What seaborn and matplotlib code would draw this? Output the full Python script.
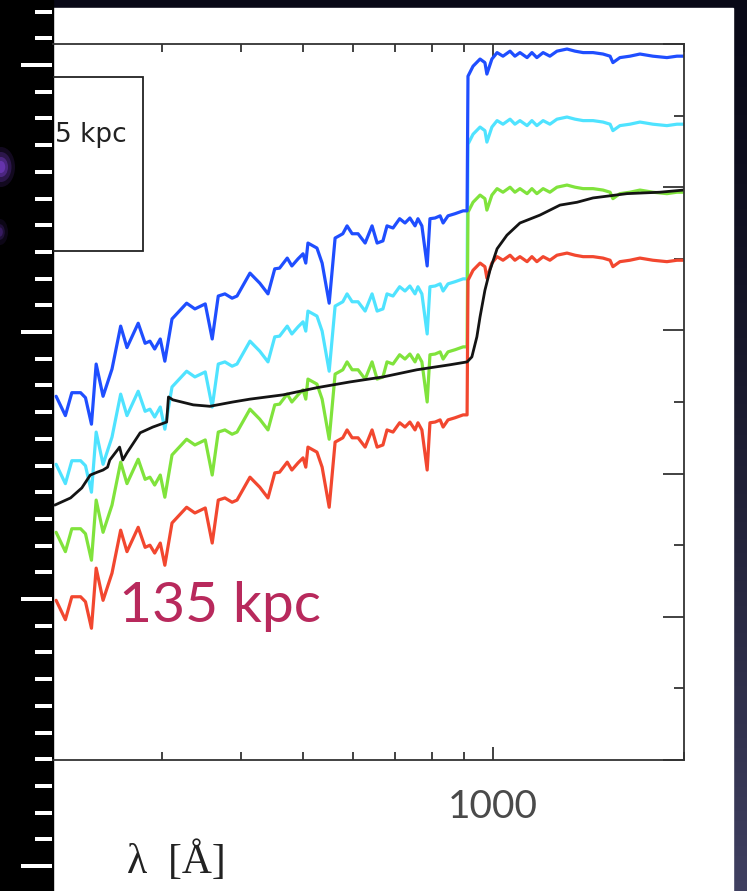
import numpy as np
import pandas as pd
import matplotlib
matplotlib.use("Agg")
import matplotlib.pyplot as plt
import matplotlib.ticker as mticker
from matplotlib.patches import Rectangle, Ellipse
import seaborn as sns

# ---------------- data ----------------
wavelength = [204, 211, 216, 223, 227, 232, 236, 242, 250, 258,
              264, 275, 282, 287, 292, 298, 303, 311, 328, 338,
              351, 360, 368, 377, 387, 394, 413, 428, 441, 452,
              460, 473, 481, 492, 501, 506, 510, 527, 537, 551,
              563, 571, 579, 588, 599, 612, 628, 644, 656, 670,
              680, 695, 712, 726, 739, 753, 761, 772, 787, 795,
              810, 825, 834, 849, 871, 897, 910, 913, 930, 954,
              971, 978, 996, 1015, 1037, 1064, 1083, 1103, 1132, 1152,
              1173, 1200, 1230, 1262, 1309, 1348, 1388, 1439, 1492, 1531,
              1547, 1587, 1646, 1707, 1789, 1883, 1953, 2000]

flux_red = [2.23, 1.96, 2.28, 2.28, 2.21, 1.84, 2.68, 2.23, 2.61, 3.21,
            2.91, 3.25, 2.97, 3.00, 2.89, 3.03, 2.72, 3.31, 3.53, 3.45,
            3.52, 3.03, 3.63, 3.66, 3.60, 3.63, 3.95, 3.81, 3.66, 4.01,
            4.02, 4.16, 4.05, 4.15, 4.22, 4.09, 4.37, 4.30, 4.09, 3.53,
            4.44, 4.47, 4.50, 4.61, 4.50, 4.50, 4.37, 4.61, 4.37, 4.40,
            4.61, 4.58, 4.71, 4.65, 4.72, 4.61, 4.71, 4.61, 4.05, 4.71,
            4.72, 4.75, 4.65, 4.75, 4.78, 4.82, 4.82, 6.70, 6.84, 6.94,
            6.89, 6.73, 6.94, 7.03, 6.98, 7.05, 6.98, 7.03, 6.96, 7.03,
            6.96, 7.03, 6.98, 7.05, 7.08, 7.05, 7.03, 7.03, 7.01, 6.98,
            6.89, 6.96, 6.98, 7.01, 6.98, 6.96, 6.98, 6.98]

flux_green = [3.18, 2.91, 3.23, 3.23, 3.16, 2.79, 3.63, 3.18, 3.56, 4.16,
              3.86, 4.20, 3.92, 3.95, 3.84, 3.98, 3.67, 4.26, 4.48, 4.40,
              4.47, 3.98, 4.58, 4.61, 4.55, 4.58, 4.90, 4.76, 4.61, 4.96,
              4.97, 5.11, 5.00, 5.10, 5.17, 5.04, 5.32, 5.25, 5.04, 4.48,
              5.39, 5.42, 5.45, 5.56, 5.45, 5.45, 5.32, 5.56, 5.32, 5.35,
              5.56, 5.53, 5.66, 5.60, 5.67, 5.56, 5.66, 5.56, 5.00, 5.66,
              5.67, 5.70, 5.60, 5.70, 5.73, 5.77, 5.77, 7.65, 7.79, 7.89,
              7.84, 7.68, 7.89, 7.98, 7.93, 8.00, 7.93, 7.98, 7.91, 7.98,
              7.91, 7.98, 7.93, 8.00, 8.03, 8.00, 7.98, 7.98, 7.96, 7.93,
              7.84, 7.91, 7.93, 7.96, 7.93, 7.91, 7.93, 7.93]

flux_cyan = [4.13, 3.86, 4.18, 4.18, 4.11, 3.74, 4.58, 4.13, 4.51, 5.11,
             4.81, 5.15, 4.87, 4.90, 4.79, 4.93, 4.62, 5.21, 5.43, 5.35,
             5.42, 4.93, 5.53, 5.56, 5.50, 5.53, 5.85, 5.71, 5.56, 5.91,
             5.92, 6.06, 5.95, 6.05, 6.12, 5.99, 6.27, 6.20, 5.99, 5.43,
             6.34, 6.37, 6.40, 6.51, 6.40, 6.40, 6.27, 6.51, 6.27, 6.30,
             6.51, 6.48, 6.61, 6.55, 6.62, 6.51, 6.61, 6.51, 5.95, 6.61,
             6.62, 6.65, 6.55, 6.65, 6.68, 6.72, 6.72, 8.60, 8.74, 8.84,
             8.79, 8.63, 8.84, 8.93, 8.88, 8.95, 8.88, 8.93, 8.86, 8.93,
             8.86, 8.93, 8.88, 8.95, 8.98, 8.95, 8.93, 8.93, 8.91, 8.88,
             8.79, 8.86, 8.88, 8.91, 8.88, 8.86, 8.88, 8.88]

flux_blue = [5.08, 4.81, 5.13, 5.13, 5.06, 4.69, 5.53, 5.08, 5.46, 6.06,
             5.76, 6.10, 5.82, 5.85, 5.74, 5.88, 5.57, 6.16, 6.38, 6.30,
             6.37, 5.88, 6.48, 6.51, 6.45, 6.48, 6.80, 6.66, 6.51, 6.86,
             6.87, 7.01, 6.90, 7.00, 7.07, 6.94, 7.22, 7.15, 6.94, 6.38,
             7.29, 7.32, 7.35, 7.46, 7.35, 7.35, 7.22, 7.46, 7.22, 7.25,
             7.46, 7.43, 7.56, 7.50, 7.57, 7.46, 7.56, 7.46, 6.90, 7.56,
             7.57, 7.60, 7.50, 7.60, 7.63, 7.67, 7.67, 9.55, 9.69, 9.79,
             9.74, 9.58, 9.79, 9.88, 9.83, 9.90, 9.83, 9.88, 9.81, 9.88,
             9.81, 9.88, 9.83, 9.90, 9.93, 9.90, 9.88, 9.88, 9.86, 9.83,
             9.74, 9.81, 9.83, 9.86, 9.83, 9.81, 9.83, 9.83]

wl_black = [203, 215, 224, 231, 237, 242, 246, 248, 255, 257,
            260, 264, 277, 290, 305, 307, 312, 336, 357, 388,
            413, 466, 527, 594, 670, 758, 855, 910, 926, 943,
            954, 971, 989, 1015, 1052, 1103, 1186, 1276, 1358, 1439,
            1531, 1628, 1726, 1836, 2000]
flux_black = [3.56, 3.66, 3.80, 3.98, 4.02, 4.05, 4.09, 4.19, 4.33, 4.37,
              4.19, 4.29, 4.57, 4.65, 4.72, 5.07, 5.03, 4.96, 4.94, 5.00,
              5.04, 5.10, 5.20, 5.28, 5.35, 5.45, 5.52, 5.56, 5.63, 5.91,
              6.19, 6.56, 6.84, 7.14, 7.33, 7.50, 7.61, 7.75, 7.79, 7.85,
              7.88, 7.91, 7.92, 7.93, 7.96]

series_order = ["cyan", "green", "red", "blue"]
series_colors = {"blue": "#1f4eff", "cyan": "#4fe3ff",
                 "green": "#80e33c", "red": "#f2472f"}
xtick_values = [1000]
xtick_labels = ["1000"]
xlabel_text = "λ  [Å]"
annot_text = "135 kpc"
legend_text = "5 kpc"

# ---------------- figure ----------------
sns.set_theme(style="white")
plt.rcParams["font.family"] = ["DejaVu Sans"]

W, H = 747, 891
fig = plt.figure(figsize=(W / 100, H / 100), dpi=100)
fig.patch.set_facecolor("#0b0b1c")


def px_rect(x0, y0, x1, y1, **kw):
    """Rectangle given in image pixels (origin top-left), figure coords."""
    return Rectangle((x0 / W, 1 - y1 / H), (x1 - x0) / W, (y1 - y0) / H,
                     transform=fig.transFigure, **kw)


# slide background gradient
bg = fig.add_axes([0, 0, 1, 1], zorder=-10)
bg.axis("off")
g = np.linspace(0, 1, 256)[:, None, None]
c_top = np.array([0.035, 0.035, 0.09])
c_bot = np.array([0.25, 0.25, 0.38])
img = np.repeat(c_top + (c_bot - c_top) * g ** 1.4, 2, axis=1)
bg.imshow(img, aspect="auto", extent=[0, 1, 0, 1], origin="upper")
bg.set_xlim(0, 1)
bg.set_ylim(0, 1)

fig.add_artist(px_rect(53, 8, 733, H, color="white", zorder=-5))
fig.add_artist(px_rect(0, 0, 53, H, color="black", zorder=-4))

# purple glow on the left strip
for r, a in [(1.0, 0.15), (0.75, 0.25), (0.5, 0.4), (0.3, 0.55)]:
    fig.add_artist(Ellipse((1 / W, 1 - 167 / H), 28 * r / W, 40 * r / H,
                           transform=fig.transFigure, color="#7b3fd2",
                           alpha=a, lw=0, zorder=-3.5))
for r, a in [(1.0, 0.12), (0.6, 0.22), (0.35, 0.32)]:
    fig.add_artist(Ellipse((0, 1 - 232 / H), 16 * r / W, 26 * r / H,
                           transform=fig.transFigure, color="#6a35b8",
                           alpha=a, lw=0, zorder=-3.5))

# film-strip style white marks
for k in range(-3, 33):
    yy = 65 + 26.7 * k
    if 0 < yy < H:
        ln = 31 if k % 10 == 0 else 17
        fig.add_artist(px_rect(52 - ln, yy - 2, 52, yy + 2, color="white",
                               lw=0, zorder=-3))

# main axes
ax = fig.add_axes([53 / W, (H - 760) / H, (683.5 - 53) / W, (760 - 44) / H])
ax.set_facecolor("none")

df = pd.DataFrame({
    "wavelength": wavelength * 4,
    "flux": flux_cyan + flux_green + flux_red + flux_blue,
    "series": sum([[s] * len(wavelength) for s in series_order], []),
})
sns.lineplot(data=df, x="wavelength", y="flux", hue="series",
             hue_order=series_order, palette=series_colors,
             sort=False, estimator=None, legend=False, lw=2.3, ax=ax)
sns.lineplot(x=wl_black, y=flux_black, color="#141414", lw=2.0,
             sort=False, estimator=None, ax=ax)

ax.set_xscale("log")
ax.set_xlim(201.7, 2000)
ax.set_ylim(0, 10)
ax.set_xlabel("")
ax.set_ylabel("")

for side in ["top", "bottom", "right"]:
    ax.spines[side].set_visible(True)
    ax.spines[side].set_color("#333333")
    ax.spines[side].set_linewidth(1.3)
ax.spines["left"].set_visible(False)

ax.yaxis.set_major_locator(mticker.MultipleLocator(2))
ax.yaxis.set_minor_locator(mticker.MultipleLocator(1))
ax.yaxis.set_major_formatter(mticker.NullFormatter())
ax.tick_params(axis="y", which="both", left=False, right=True,
               labelleft=False, labelright=False, direction="in",
               color="#333333", width=1.3)
ax.tick_params(axis="y", which="major", length=15)
ax.tick_params(axis="y", which="minor", length=7.5)

ax.xaxis.set_major_locator(mticker.FixedLocator(xtick_values))
ax.xaxis.set_major_formatter(mticker.FixedFormatter(xtick_labels))
ax.xaxis.set_minor_locator(mticker.LogLocator(base=10, subs=np.arange(2, 10)))
ax.xaxis.set_minor_formatter(mticker.NullFormatter())
ax.tick_params(axis="x", which="both", bottom=True, top=True,
               direction="in", color="#333333", width=1.3)
ax.tick_params(axis="x", which="major", length=9.5, pad=21,
               labelsize=28, labelcolor="#4a4a4a")
ax.tick_params(axis="x", which="minor", length=6)
for lab in ax.get_xticklabels():
    lab.set_fontfamily("Lato")

# box of the (cropped) legend
ax.add_patch(Rectangle((-0.1, (760 - 251) / 716), 0.1 + (143 - 53) / 630.5,
                       (251 - 77) / 716, transform=ax.transAxes, fill=False,
                       ec="#222222", lw=1.3, clip_on=True, zorder=5))
fig.text(55 / W, 1 - 142 / H, legend_text, family="DejaVu Sans",
         fontsize=19, color="#222222", va="baseline", ha="left")

fig.text(119 / W, 1 - 622 / H, annot_text, family="Lato", fontsize=41,
         color="#b8295c", va="baseline", ha="left")

fig.text(127 / W, 1 - 873 / H, xlabel_text, family="Liberation Serif",
         fontsize=30, color="#222222", va="baseline", ha="left")

fig.savefig("out.png", dpi=100, facecolor=fig.get_facecolor())
